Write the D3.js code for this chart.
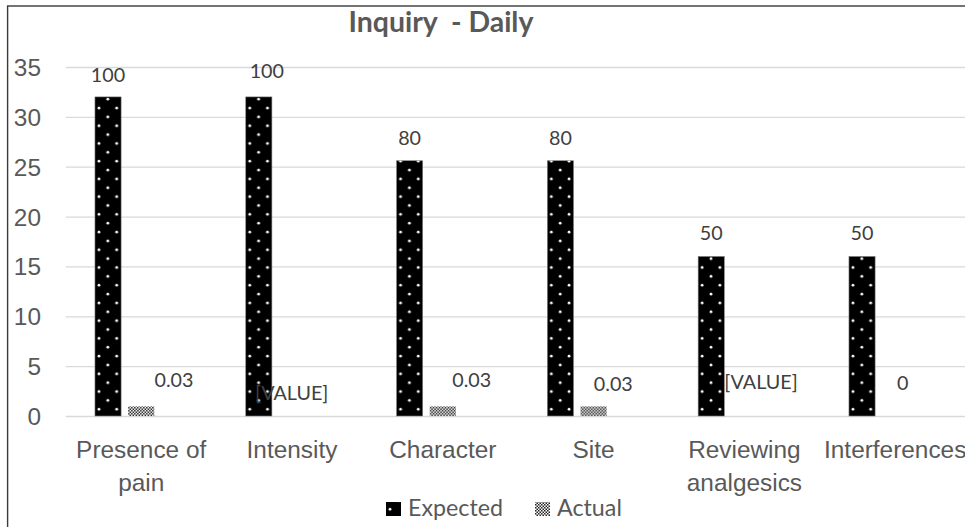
<!DOCTYPE html>
<html>
<head>
<meta charset="utf-8">
<script src="https://cdn.jsdelivr.net/npm/d3@7"></script>
<style>
  html, body { margin: 0; padding: 0; background: #fff; }
  svg { display: block; font-family: Lato, "Open Sans", sans-serif; }
</style>
</head>
<body>
<svg id="chart" width="965" height="527"></svg>
<script>
// ---------- data ----------
const title = "Inquiry  - Daily";
const categories = ["Presence of pain", "Intensity", "Character", "Site", "Reviewing analgesics", "Interferences"];
const series = ["Expected", "Actual"];
const expectedValues = [32, 32, 25.6, 25.6, 16, 16];
const actualValues = [0.96, 0, 0.96, 0.96, 0, 0];
const expectedLabels = ["100", "100", "80", "80", "50", "50"];
const actualLabels = ["0.03", "[VALUE]", "0.03", "0.03", "[VALUE]", "0"];
const yTicks = [0, 5, 10, 15, 20, 25, 30, 35];

// ---------- layout (label nudges, as placed in the original) ----------
const expectedLabelNudge = [[0, 15], [8, 19], [0, 16], [0, 16], [0, 16], [0, 16]];
const actualLabelNudge = [[32.8, 29], [-0.3, 16], [28.9, 29], [19.7, 25], [16.6, 27], [7.5, 26]];

const W = 965, H = 527;
const plotLeft = 65.8, bandW = 150.8;
const svg = d3.select("#chart");

function fitSize(text, weight, target) {
  const t = svg.append("text").attr("font-size", 100).attr("font-weight", weight)
    .style("white-space", "pre").text(text);
  const w = t.node().getComputedTextLength();
  t.remove();
  return 100 * target / w;
}
const axisFs = fitSize("Character", "normal", 105);
const dataFs = fitSize("0.03", "normal", 39);
const legendFs = fitSize("Expected", "normal", 95);
const titleFs = fitSize(title, "bold", 185);

const x = d3.scaleBand().domain(categories).range([plotLeft, plotLeft + bandW * categories.length]);
const slots = [...series, "(unused)"];
const xi = d3.scaleBand().domain(slots).range([0, x.bandwidth()]).paddingInner(0.212).paddingOuter(0.879);
const y = d3.scaleLinear().domain([0, 35]).range([416, 67]);

// patterns
const defs = svg.append("defs");
const dots = defs.append("pattern").attr("id", "dots").attr("patternUnits", "userSpaceOnUse")
  .attr("width", 17.72).attr("height", 17.72);
dots.append("rect").attr("width", 17.72).attr("height", 17.72).attr("fill", "#000");
dots.append("circle").attr("cx", 4).attr("cy", 11.02).attr("r", 1.4).attr("fill", "#fff");
dots.append("circle").attr("cx", 12.86).attr("cy", 2.16).attr("r", 1.4).attr("fill", "#fff");
const checks = defs.append("pattern").attr("id", "checks").attr("patternUnits", "userSpaceOnUse")
  .attr("width", 3).attr("height", 3);
checks.append("rect").attr("width", 3).attr("height", 3).attr("fill", "#fff");
checks.append("rect").attr("width", 1.5).attr("height", 1.5).attr("fill", "#222");
checks.append("rect").attr("x", 1.5).attr("y", 1.5).attr("width", 1.5).attr("height", 1.5).attr("fill", "#222");

// border
svg.append("rect").attr("x", 7.6).attr("y", 6).attr("width", 1100).attr("height", 700)
  .attr("fill", "none").attr("stroke", "#3a3a3a").attr("stroke-width", 1.4);

// title
svg.append("text").attr("x", 441).attr("y", 32).attr("text-anchor", "middle")
  .attr("font-size", titleFs).attr("font-weight", "bold").attr("fill", "#595959")
  .style("white-space", "pre").text(title);

// gridlines + y axis
const yAxis = d3.axisLeft(y).tickValues(yTicks).tickSize(-(W + 20 - plotLeft)).tickPadding(25);
const gy = svg.append("g").attr("transform", `translate(${plotLeft},0)`).call(yAxis);
gy.select(".domain").remove();
gy.selectAll(".tick line").attr("stroke", "#d9d9d9").attr("stroke-width", 1.3);
gy.selectAll(".tick text").attr("font-size", axisFs).attr("fill", "#595959")
  .attr("font-family", null).attr("x", 41 - plotLeft).attr("dy", "0.35em");

// x axis labels
const gx = svg.append("g").attr("transform", "translate(0,416)")
  .call(d3.axisBottom(x).tickSize(0).tickPadding(0));
gx.select(".domain").remove();
gx.selectAll(".tick text").each(function(d) {
  const t = d3.select(this).attr("font-size", axisFs).attr("fill", "#595959")
    .attr("font-family", null).attr("y", 0).attr("dy", null).text(null);
  const words = d.split(" ");
  const lines = [];
  let cur = [];
  words.forEach(w => {
    const trial = cur.concat(w).join(" ");
    t.text(trial);
    if (cur.length && t.node().getComputedTextLength() > 140) { lines.push(cur.join(" ")); cur = [w]; }
    else cur.push(w);
  });
  lines.push(cur.join(" "));
  t.text(null);
  lines.forEach((ln, i) => t.append("tspan").attr("x", 0).attr("y", 42 + i * 33).text(ln));
});

// bars
const expG = svg.append("g").selectAll("g").data(categories).join("g")
  .attr("transform", (c) => `translate(${x(c) + xi("Expected")},${y(0)})`);
expG.append("rect")
  .attr("x", 0).attr("width", xi.bandwidth())
  .attr("y", (c, i) => y(expectedValues[i]) - y(0))
  .attr("height", (c, i) => y(0) - y(expectedValues[i]))
  .attr("fill", "url(#dots)").attr("stroke", "#7f7f7f").attr("stroke-width", 0.6);

const actG = svg.append("g").selectAll("g").data(categories).join("g")
  .attr("transform", (c) => `translate(${x(c) + xi("Actual")},${y(0)})`);
actG.filter((c, i) => actualValues[i] > 0).append("rect")
  .attr("x", 0).attr("width", xi.bandwidth())
  .attr("y", (c) => y(actualValues[categories.indexOf(c)]) - y(0))
  .attr("height", (c) => y(0) - y(actualValues[categories.indexOf(c)]))
  .attr("fill", "url(#checks)");

// data labels
svg.append("g").selectAll("text").data(categories).join("text")
  .attr("x", (c, i) => x(c) + xi("Expected") + xi.bandwidth() / 2 + expectedLabelNudge[i][0])
  .attr("y", (c, i) => y(expectedValues[i]) - expectedLabelNudge[i][1])
  .attr("text-anchor", "middle").attr("font-size", dataFs).attr("fill", "#404040")
  .text((c, i) => expectedLabels[i]);
svg.append("g").selectAll("text").data(categories).join("text")
  .attr("x", (c, i) => x(c) + x.bandwidth() / 2 + actualLabelNudge[i][0])
  .attr("y", (c, i) => y(0) - actualLabelNudge[i][1])
  .attr("text-anchor", "middle").attr("font-size", dataFs).attr("fill", "#404040")
  .text((c, i) => actualLabels[i]);

// legend
const legendX = [386, 535];
const lg = svg.append("g").selectAll("g").data(series).join("g")
  .attr("transform", (d, i) => `translate(${legendX[i]},516)`);
lg.append("rect").attr("x", 0).attr("y", -14).attr("width", 15).attr("height", 14)
  .attr("fill", (d, i) => i === 0 ? "url(#dots)" : "url(#checks)");
lg.append("text").attr("x", 22).attr("y", 0)
  .attr("font-size", legendFs).attr("fill", "#595959").text(d => d);
</script>
</body>
</html>
